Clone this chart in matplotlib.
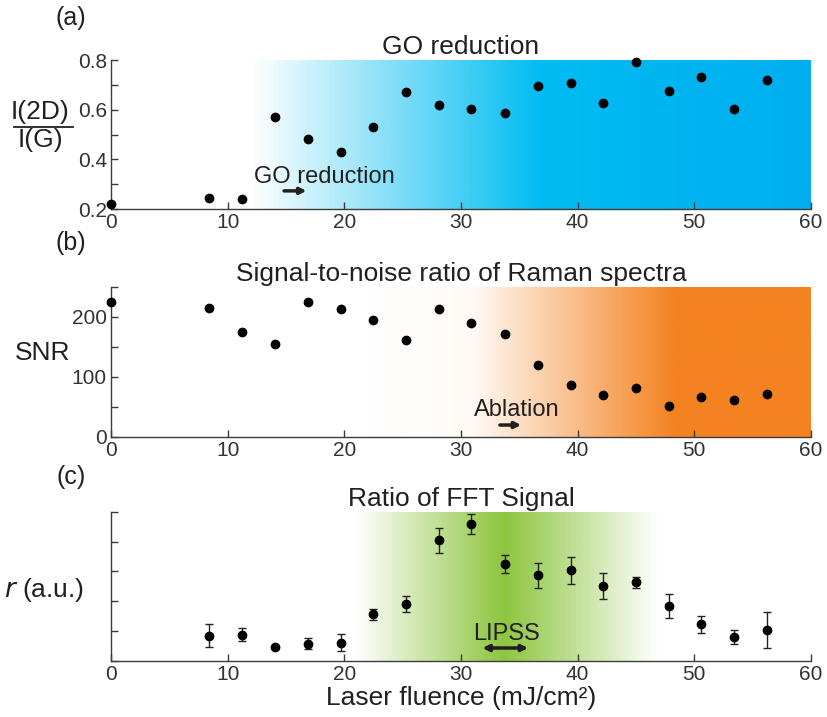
import numpy as np
import matplotlib
matplotlib.use('Agg')
import matplotlib.pyplot as plt
from matplotlib.colors import LinearSegmentedColormap
from matplotlib.ticker import MultipleLocator, NullFormatter

plt.rcParams['font.family'] = ['Liberation Sans', 'DejaVu Sans']

# данные
fluence = [0, 8.4, 11.25, 14.1, 16.9, 19.7, 22.5, 25.3, 28.1, 30.9, 33.75,
           36.6, 39.4, 42.2, 45.0, 47.8, 50.6, 53.4, 56.25]
ratio_2d_g = [0.222, 0.243, 0.242, 0.570, 0.480, 0.429, 0.529, 0.671, 0.619,
              0.603, 0.586, 0.695, 0.708, 0.625, 0.791, 0.674, 0.730, 0.602, 0.721]
snr = [225, 214, 175, 154, 225, 213, 194, 161, 213, 189, 172, 119, 86, 70,
       81, 51, 66, 62, 72]
fluence_fft = fluence[1:]
r_fft = [0.169, 0.176, 0.092, 0.116, 0.123, 0.313, 0.382, 0.808, 0.918,
         0.652, 0.574, 0.607, 0.502, 0.527, 0.368, 0.246, 0.159, 0.208]
r_err = [0.077, 0.045, 0.01, 0.038, 0.058, 0.035, 0.051, 0.083, 0.068,
         0.061, 0.083, 0.089, 0.085, 0.038, 0.083, 0.056, 0.048, 0.12]

TXT = '#231f20'
GREY = '#3c3c3c'
XMAX = 60


def gradient(ax, stops, y0, y1):
    # горизонтальный градиент фона
    cmap = LinearSegmentedColormap.from_list('g', [(p / XMAX, c) for p, c in stops])
    xx = np.linspace(0, XMAX, 800).reshape(1, -1)
    ax.imshow(xx, extent=[0, XMAX, y0, y1], cmap=cmap, vmin=0, vmax=XMAX,
              aspect='auto', origin='lower', zorder=0, interpolation='bilinear')


def style(ax):
    for s in ['top', 'right']:
        ax.spines[s].set_visible(False)
    for s in ['left', 'bottom']:
        ax.spines[s].set_color(GREY)
        ax.spines[s].set_linewidth(1.0)
    ax.tick_params(which='both', direction='in', length=5, width=1.0,
                   color=GREY, labelsize=15, labelcolor='#333333', pad=3)
    ax.set_xlim(0, XMAX)
    ax.xaxis.set_major_locator(MultipleLocator(10))


fig = plt.figure(figsize=(8.28, 7.17), dpi=100)
W = 0.8454
ax_a = fig.add_axes([0.134, 0.7085, W, 0.2078])
ax_b = fig.add_axes([0.134, 0.3909, W, 0.2092])
ax_c = fig.add_axes([0.134, 0.0781, W, 0.2082])

# (a)
gradient(ax_a, [(0, 'white'), (12, 'white'), (37, '#00bcf2'), (60, '#00aeef')], 0.2, 0.8)
ax_a.plot(fluence, ratio_2d_g, 'o', color='black', ms=6, clip_on=False, zorder=3)
style(ax_a)
ax_a.set_ylim(0.2, 0.8)
ax_a.yaxis.set_major_locator(MultipleLocator(0.2))
ax_a.yaxis.set_minor_locator(MultipleLocator(0.1))
ax_a.set_title('GO reduction', fontsize=19, color=TXT, pad=4)
ax_a.text(18.3, 0.329, 'GO reduction', fontsize=17, color=TXT, ha='center', va='center')
ax_a.annotate('', xy=(17.0, 0.273), xytext=(14.6, 0.273),
              arrowprops=dict(arrowstyle='-|>', lw=2.5, color=TXT, mutation_scale=9))
ax_a.text(-0.101, 0.651, 'I(2D)', fontsize=19, color=TXT, ha='center', va='center',
          transform=ax_a.transAxes)
ax_a.text(-0.101, 0.463, 'I(G)', fontsize=19, color=TXT, ha='center', va='center',
          transform=ax_a.transAxes)
ax_a.plot([-0.139, -0.054], [0.55, 0.55], color=TXT, lw=1.3,
          transform=ax_a.transAxes, clip_on=False)

# (b)
gradient(ax_b, [(0, 'white'), (22, 'white'), (31, '#fffaf5'), (48.5, '#f48220'), (60, '#f48220')], 0, 250)
ax_b.plot(fluence, snr, 'o', color='black', ms=6, clip_on=False, zorder=3)
style(ax_b)
ax_b.set_ylim(0, 250)
ax_b.yaxis.set_major_locator(MultipleLocator(100))
ax_b.yaxis.set_minor_locator(MultipleLocator(50))
ax_b.set_title('Signal-to-noise ratio of Raman spectra', fontsize=19, color=TXT, pad=4)
ax_b.text(34.8, 44.5, 'Ablation', fontsize=17, color=TXT, ha='center', va='center')
ax_b.annotate('', xy=(35.4, 19.5), xytext=(33.1, 19.5),
              arrowprops=dict(arrowstyle='-|>', lw=2.5, color=TXT, mutation_scale=9))
ax_b.set_ylabel('SNR', fontsize=19, color=TXT, rotation=0, ha='center', va='center')
ax_b.yaxis.set_label_coords(-0.097, 0.56)

# (c)
gradient(ax_c, [(0, 'white'), (21, 'white'), (33.7, '#8dc63f'), (47, 'white'), (60, 'white')], 0, 1)
ax_c.errorbar(fluence_fft, r_fft, yerr=r_err, fmt='o', color='black', ms=6,
              ecolor='#222222', elinewidth=1.0, capsize=3, capthick=1.0, zorder=3)
style(ax_c)
ax_c.set_ylim(0, 1)
ax_c.yaxis.set_major_locator(MultipleLocator(0.2))
ax_c.yaxis.set_major_formatter(NullFormatter())
ax_c.set_title('Ratio of FFT Signal', fontsize=19, color=TXT, pad=4)
ax_c.text(33.9, 0.181, 'LIPSS', fontsize=17, color=TXT, ha='center', va='center')
ax_c.annotate('', xy=(36.0, 0.087), xytext=(31.6, 0.087),
              arrowprops=dict(arrowstyle='<|-|>', lw=2.5, color=TXT, mutation_scale=9))
ax_c.set_ylabel('$\\it{r}$ (a.u.)', fontsize=19, color=TXT, rotation=0, ha='center', va='center')
ax_c.yaxis.set_label_coords(-0.096, 0.476)
ax_c.set_xlabel('Laser fluence (mJ/cm²)', fontsize=19, color=TXT, labelpad=1)

# подписи панелей
fig.text(71 / 828, 1 - 18 / 717, '(a)', fontsize=18, color=TXT, ha='center', va='center')
fig.text(71 / 828, 1 - 243 / 717, '(b)', fontsize=18, color=TXT, ha='center', va='center')
fig.text(71 / 828, 1 - 477 / 717, '(c)', fontsize=18, color=TXT, ha='center', va='center')

fig.savefig('out.png', dpi=100)
